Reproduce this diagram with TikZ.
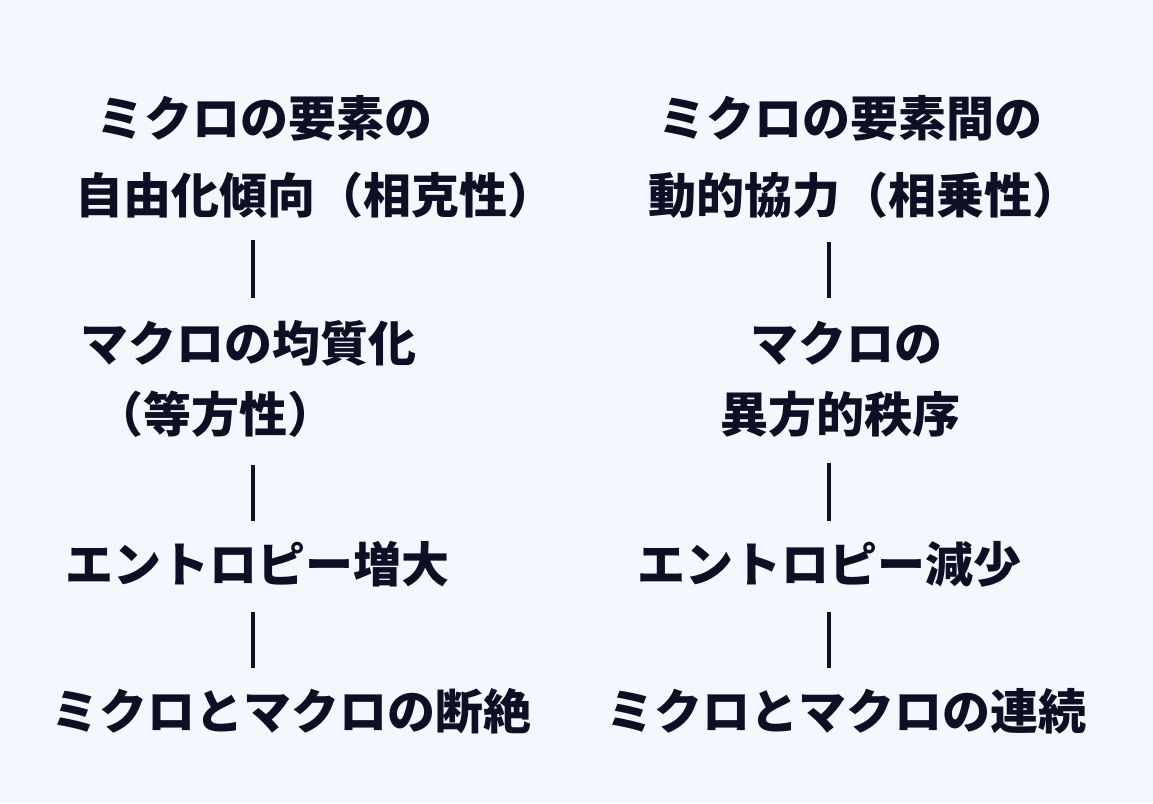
\documentclass[tikz,border=0pt]{standalone}
\usepackage{fontspec}
\newfontfamily\jp{Noto Sans CJK JP}
\definecolor{bgc}{RGB}{243,247,254}
\definecolor{ink}{RGB}{12,16,36}
\begin{document}
\begin{tikzpicture}[x=1pt,y=-1pt,
  lbl/.style={inner sep=0pt, text height=39.8pt, text depth=3.4pt, text=ink,
    font=\jp\bfseries\fontsize{48pt}{57pt}\selectfont},
  bar/.style={draw=ink, line width=3.5pt}]
\fill[bgc] (0,0) rectangle (1153,803);
\useasboundingbox (0,0) rectangle (1153,803);
\coordinate (colL) at (253,0);
\coordinate (colR) at (829,0);
% left column
\node[lbl] (L1) at (264.5,118) {ミクロの要素の};
\node[lbl] (L2) at (315,195) {自由化傾向（相克性）};
\node[lbl] (L3) at (248,343) {マクロの均質化};
\node[lbl] (L4) at (215.5,414) {（等方性）};
\node[lbl] (L5) at (257,564) {エントロピー増大};
\node[lbl] (L6) at (291,711) {ミクロとマクロの断絶};
% right column
\node[lbl] (R1) at (850,118) {ミクロの要素間の};
\node[lbl] (R2) at (864,195) {動的協力（相乗性）};
\node[lbl] (R3) at (846,343) {マクロの};
\node[lbl] (R4) at (840,414) {異方的秩序};
\node[lbl] (R5) at (829,564) {エントロピー減少};
\node[lbl] (R6) at (846,711) {ミクロとマクロの連続};
% connectors
\draw[bar, shorten <=23.5pt, shorten >=23.5pt] (L2.south -| colL) -- (L3.north -| colL);
\draw[bar, shorten <=29.5pt, shorten >=21.5pt] (L4.south -| colL) -- (L5.north -| colL);
\draw[bar, shorten <=26.5pt, shorten >=21.5pt] (L5.south -| colL) -- (L6.north -| colL);
\draw[bar, shorten <=25.5pt, shorten >=23.5pt] (R2.south -| colR) -- (R3.north -| colR);
\draw[bar, shorten <=27.5pt, shorten >=21.5pt] (R4.south -| colR) -- (R5.north -| colR);
\draw[bar, shorten <=26.5pt, shorten >=21.5pt] (R5.south -| colR) -- (R6.north -| colR);
\end{tikzpicture}
\end{document}
